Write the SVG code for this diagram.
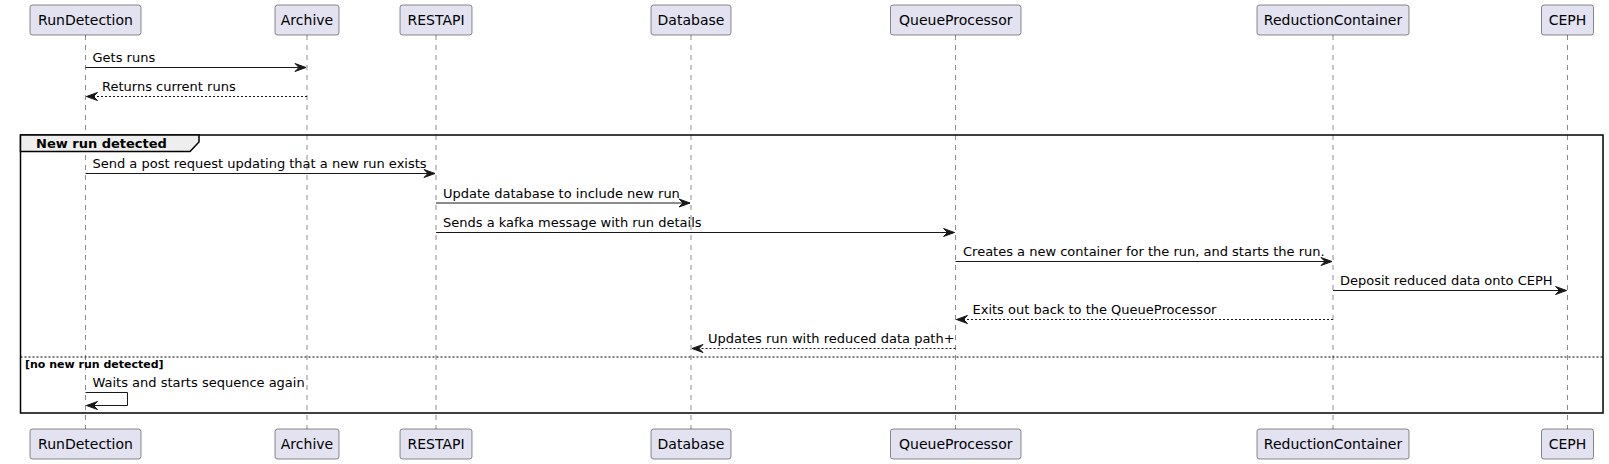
<svg xmlns="http://www.w3.org/2000/svg" width="1609" height="464" viewBox="0 0 1609 464">
<style>
  .box{fill:#E2E2F0;stroke:#181818;stroke-width:0.5}
  .life{stroke:#181818;stroke-width:0.5;stroke-dasharray:5,5;fill:none}
  .pname{font-family:"DejaVu Sans","Liberation Sans",sans-serif;font-size:14px;fill:#000;text-anchor:middle}
  .msg{font-family:"DejaVu Sans","Liberation Sans",sans-serif;font-size:13px;fill:#000}
  .msgline{stroke:#181818;stroke-width:1;fill:none;marker-end:url(#ah)}
  .dash{stroke-dasharray:2,2}
  .frame{fill:none;stroke:#000;stroke-width:1.5}
  .tab{fill:#EEEEEE;stroke:#000;stroke-width:1.5}
  .flabel{font-family:"DejaVu Sans","Liberation Sans",sans-serif;font-size:13px;font-weight:bold;fill:#000}
  .guard{font-family:"DejaVu Sans","Liberation Sans",sans-serif;font-size:11px;font-weight:bold;fill:#000}
  .sep{stroke:#000;stroke-width:1;stroke-dasharray:2,2;fill:none}
</style>
<defs>
  <marker id="ah" viewBox="0 0 11 8" refX="11" refY="4" markerWidth="11" markerHeight="8" markerUnits="userSpaceOnUse" orient="auto" overflow="visible">
    <path d="M0,0 L11,4 L0,8 L4,4 Z" fill="#181818" stroke="#181818" stroke-width="1" stroke-dasharray="none"/>
  </marker>
</defs>

<g id="lifelines">
  <line class="life" x1="85.5" y1="35" x2="85.5" y2="429"/>
  <line class="life" x1="307" y1="35" x2="307" y2="429"/>
  <line class="life" x1="436" y1="35" x2="436" y2="429"/>
  <line class="life" x1="691" y1="35" x2="691" y2="429"/>
  <line class="life" x1="955.5" y1="35" x2="955.5" y2="429"/>
  <line class="life" x1="1333" y1="35" x2="1333" y2="429"/>
  <line class="life" x1="1567.5" y1="35" x2="1567.5" y2="429"/>
</g>

<g id="frame-alt">
  <rect class="frame" x="20.5" y="135" width="1582.5" height="278"/>
  <path class="tab" d="M20.5,135 L199,135 L199,142 L190,151.5 L20.5,151.5 Z"/>
  <text class="flabel" x="36" y="148">New run detected</text>
  <line class="sep" x1="20.5" y1="357" x2="1603" y2="357"/>
  <text class="guard" x="25" y="367.5">[no new run detected]</text>
</g>

<g id="RunDetection">
  <rect class="box" x="30" y="5" width="111" height="30" rx="2.5"/>
  <text class="pname" x="85.5" y="25">RunDetection</text>
  <rect class="box" x="30" y="429" width="111" height="30" rx="2.5"/>
  <text class="pname" x="85.5" y="449">RunDetection</text>
</g>
<g id="Archive">
  <rect class="box" x="275" y="5" width="64" height="30" rx="2.5"/>
  <text class="pname" x="307" y="25">Archive</text>
  <rect class="box" x="275" y="429" width="64" height="30" rx="2.5"/>
  <text class="pname" x="307" y="449">Archive</text>
</g>
<g id="RESTAPI">
  <rect class="box" x="400" y="5" width="72" height="30" rx="2.5"/>
  <text class="pname" x="436" y="25">RESTAPI</text>
  <rect class="box" x="400" y="429" width="72" height="30" rx="2.5"/>
  <text class="pname" x="436" y="449">RESTAPI</text>
</g>
<g id="Database">
  <rect class="box" x="651" y="5" width="80" height="30" rx="2.5"/>
  <text class="pname" x="691" y="25">Database</text>
  <rect class="box" x="651" y="429" width="80" height="30" rx="2.5"/>
  <text class="pname" x="691" y="449">Database</text>
</g>
<g id="QueueProcessor">
  <rect class="box" x="890.5" y="5" width="130.5" height="30" rx="2.5"/>
  <text class="pname" x="955.75" y="25">QueueProcessor</text>
  <rect class="box" x="890.5" y="429" width="130.5" height="30" rx="2.5"/>
  <text class="pname" x="955.75" y="449">QueueProcessor</text>
</g>
<g id="ReductionContainer">
  <rect class="box" x="1257" y="5" width="152" height="30" rx="2.5"/>
  <text class="pname" x="1333" y="25">ReductionContainer</text>
  <rect class="box" x="1257" y="429" width="152" height="30" rx="2.5"/>
  <text class="pname" x="1333" y="449">ReductionContainer</text>
</g>
<g id="CEPH">
  <rect class="box" x="1541.5" y="5" width="52" height="30" rx="2.5"/>
  <text class="pname" x="1567.5" y="25">CEPH</text>
  <rect class="box" x="1541.5" y="429" width="52" height="30" rx="2.5"/>
  <text class="pname" x="1567.5" y="449">CEPH</text>
</g>

<g id="connectors">
  <line class="msgline" x1="85.5" y1="67.5" x2="306" y2="67.5"/>
  <text class="msg" x="92.5" y="62">Gets runs</text>

  <line class="msgline dash" x1="307" y1="96.5" x2="86.5" y2="96.5"/>
  <text class="msg" x="102" y="91">Returns current runs</text>

  <line class="msgline" x1="85.5" y1="173.5" x2="435" y2="173.5"/>
  <text class="msg" x="92.5" y="168">Send a post request updating that a new run exists</text>

  <line class="msgline" x1="436" y1="203" x2="690" y2="203"/>
  <text class="msg" x="443" y="197.5">Update database to include new run</text>

  <line class="msgline" x1="436" y1="232.5" x2="954.5" y2="232.5"/>
  <text class="msg" x="443" y="227">Sends a kafka message with run details</text>

  <line class="msgline" x1="955.5" y1="261.5" x2="1332" y2="261.5"/>
  <text class="msg" x="963" y="256">Creates a new container for the run, and starts the run.</text>

  <line class="msgline" x1="1333" y1="290.5" x2="1566.5" y2="290.5"/>
  <text class="msg" x="1340" y="285">Deposit reduced data onto CEPH</text>

  <line class="msgline dash" x1="1333" y1="319.5" x2="956.5" y2="319.5"/>
  <text class="msg" x="972.5" y="314">Exits out back to the QueueProcessor</text>

  <line class="msgline dash" x1="955.5" y1="348.5" x2="692" y2="348.5"/>
  <text class="msg" x="708" y="343">Updates run with reduced data path+</text>

  <polyline class="msgline" points="85.5,392.5 127.5,392.5 127.5,405.5 86.5,405.5"/>
  <text class="msg" x="92.5" y="387">Waits and starts sequence again</text>
</g>
</svg>
